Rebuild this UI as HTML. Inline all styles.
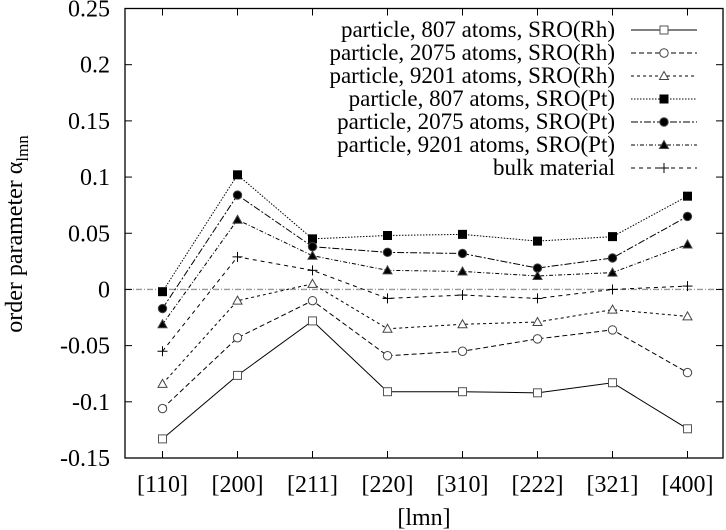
<!DOCTYPE html>
<html><head><meta charset="utf-8"><style>
body{margin:0;background:#fff}
svg{display:block}
svg text{font-family:"Liberation Serif","Times New Roman","Noto Serif CJK SC","DejaVu Serif",serif !important}
</style></head><body>
<svg id="chart" width="726" height="530">
<g id="grid"></g><g id="series"></g><g id="legend"></g>
</svg>
<script>
const categories=["[110]","[200]","[211]","[220]","[310]","[222]","[321]","[400]"];
const yTicks=[-0.15,-0.1,-0.05,0,0.05,0.1,0.15,0.2,0.25];
const yTickLabels=["-0.15","-0.1","-0.05","0","0.05","0.1","0.15","0.2","0.25"];
const seriesNames=["particle, 807 atoms, SRO(Rh)","particle, 2075 atoms, SRO(Rh)","particle, 9201 atoms, SRO(Rh)","particle, 807 atoms, SRO(Pt)","particle, 2075 atoms, SRO(Pt)","particle, 9201 atoms, SRO(Pt)","bulk material"];
const rh807=[-0.133,-0.0765,-0.028,-0.091,-0.091,-0.092,-0.083,-0.124];
const rh2075=[-0.106,-0.043,-0.010,-0.059,-0.055,-0.044,-0.036,-0.074];
const rh9201=[-0.084,-0.010,0.005,-0.035,-0.031,-0.029,-0.018,-0.024];
const pt807=[-0.002,0.102,0.045,0.048,0.049,0.043,0.047,0.083];
const pt2075=[-0.017,0.084,0.038,0.033,0.032,0.019,0.028,0.065];
const pt9201=[-0.031,0.062,0.030,0.017,0.016,0.012,0.015,0.040];
const bulk=[-0.055,0.029,0.017,-0.008,-0.005,-0.008,0.0,0.003];

const NS="http://www.w3.org/2000/svg";
const L=125,R=723,T=8.5,B=458;
const yMin=-0.15,yMax=0.25;
const xs=i=>162.5+i*75;
const ys=v=>B-(v-yMin)/(yMax-yMin)*(B-T);
function mk(tag,attrs,parent){const e=document.createElementNS(NS,tag);for(const k in attrs)e.setAttribute(k,attrs[k]);parent.appendChild(e);return e;}
const grid=document.getElementById('grid'),ser=document.getElementById('series'),leg=document.getElementById('legend');

const z=mk('line',{x1:L,x2:R,y1:ys(0),y2:ys(0),stroke:'#999','stroke-width':1.3,'stroke-dasharray':'6,2,1,2'},grid);


const fr=mk('rect',{x:L,y:T,width:R-L,height:B-T,fill:'none',stroke:'#000','stroke-width':1.3},grid);


yTicks.forEach((v,i)=>{
  mk('line',{x1:L,x2:L+7,y1:ys(v),y2:ys(v),stroke:'#000'},grid);
  mk('line',{x1:R-7,x2:R,y1:ys(v),y2:ys(v),stroke:'#000'},grid);
  const t=mk('text',{x:110,y:ys(v)+8,'text-anchor':'end','font-size':24},grid);
  t.textContent=yTickLabels[i];
  
  
});
categories.forEach((c,i)=>{
  mk('line',{x1:xs(i),x2:xs(i),y1:B,y2:B-7,stroke:'#000'},grid);
  mk('line',{x1:xs(i),x2:xs(i),y1:T,y2:T+7,stroke:'#000'},grid);
  const t=mk('text',{x:xs(i),y:492,'text-anchor':'middle','font-size':24},grid);
  t.textContent=c;
  
  
});
const xt=mk('text',{x:424,y:525,'text-anchor':'middle','font-size':24},grid);
xt.textContent='[lmn]';


const yt=mk('text',{x:0,y:0,'text-anchor':'middle','font-size':24,transform:'translate(22,234) rotate(-90)'},grid);


yt.innerHTML='order parameter α<tspan font-size="17" dy="6">lmn</tspan>';

const data=[rh807,rh2075,rh9201,pt807,pt2075,pt9201,bulk];
const dashes=['none','5,3','3,3','1.5,1.5','7,2,2,2','4,2,1,2','4,4'];
const markers=['sq','circ','tri','fsq','fcirc','ftri','plus'];
function marker(type,x,y,g){
  const fill=type[0]==='f'?'#000':'#fff';
  if(type.endsWith('sq'))mk('rect',{x:x-4,y:y-4,width:8,height:8,fill,stroke:type==='sq'?'#555':'#000'},g);
  else if(type.endsWith('circ'))mk('circle',{cx:x,cy:y,r:4.2,fill,stroke:'#444'},g);
  else if(type.endsWith('tri'))mk('polygon',{points:`${x},${y-4.5} ${x+4.5},${y+3.5} ${x-4.5},${y+3.5}`,fill,stroke:'#444'},g);
  else {mk('line',{x1:x-5,x2:x+5,y1:y,y2:y,stroke:'#000'},g);mk('line',{x1:x,x2:x,y1:y-5,y2:y+5,stroke:'#000'},g);}
}
data.forEach((arr,si)=>{
  const g=mk('g',{},ser);
  
  
  const p=mk('polyline',{points:arr.map((v,i)=>xs(i)+','+ys(v)).join(' '),fill:'none',stroke:'#000','stroke-width':1,'stroke-dasharray':dashes[si]},g);
  
  
  arr.forEach((v,i)=>marker(markers[si],xs(i),ys(v),g));
  const ly=30+si*23;
  const lg=mk('g',{},leg);
  
  
  const t=mk('text',{x:615,y:ly+7,'text-anchor':'end','font-size':23},lg);
  t.textContent=seriesNames[si];
  mk('line',{x1:631,x2:697,y1:ly,y2:ly,stroke:'#000','stroke-dasharray':dashes[si]},lg);
  marker(markers[si],664,ly,lg);
});
</script>
</body></html>
